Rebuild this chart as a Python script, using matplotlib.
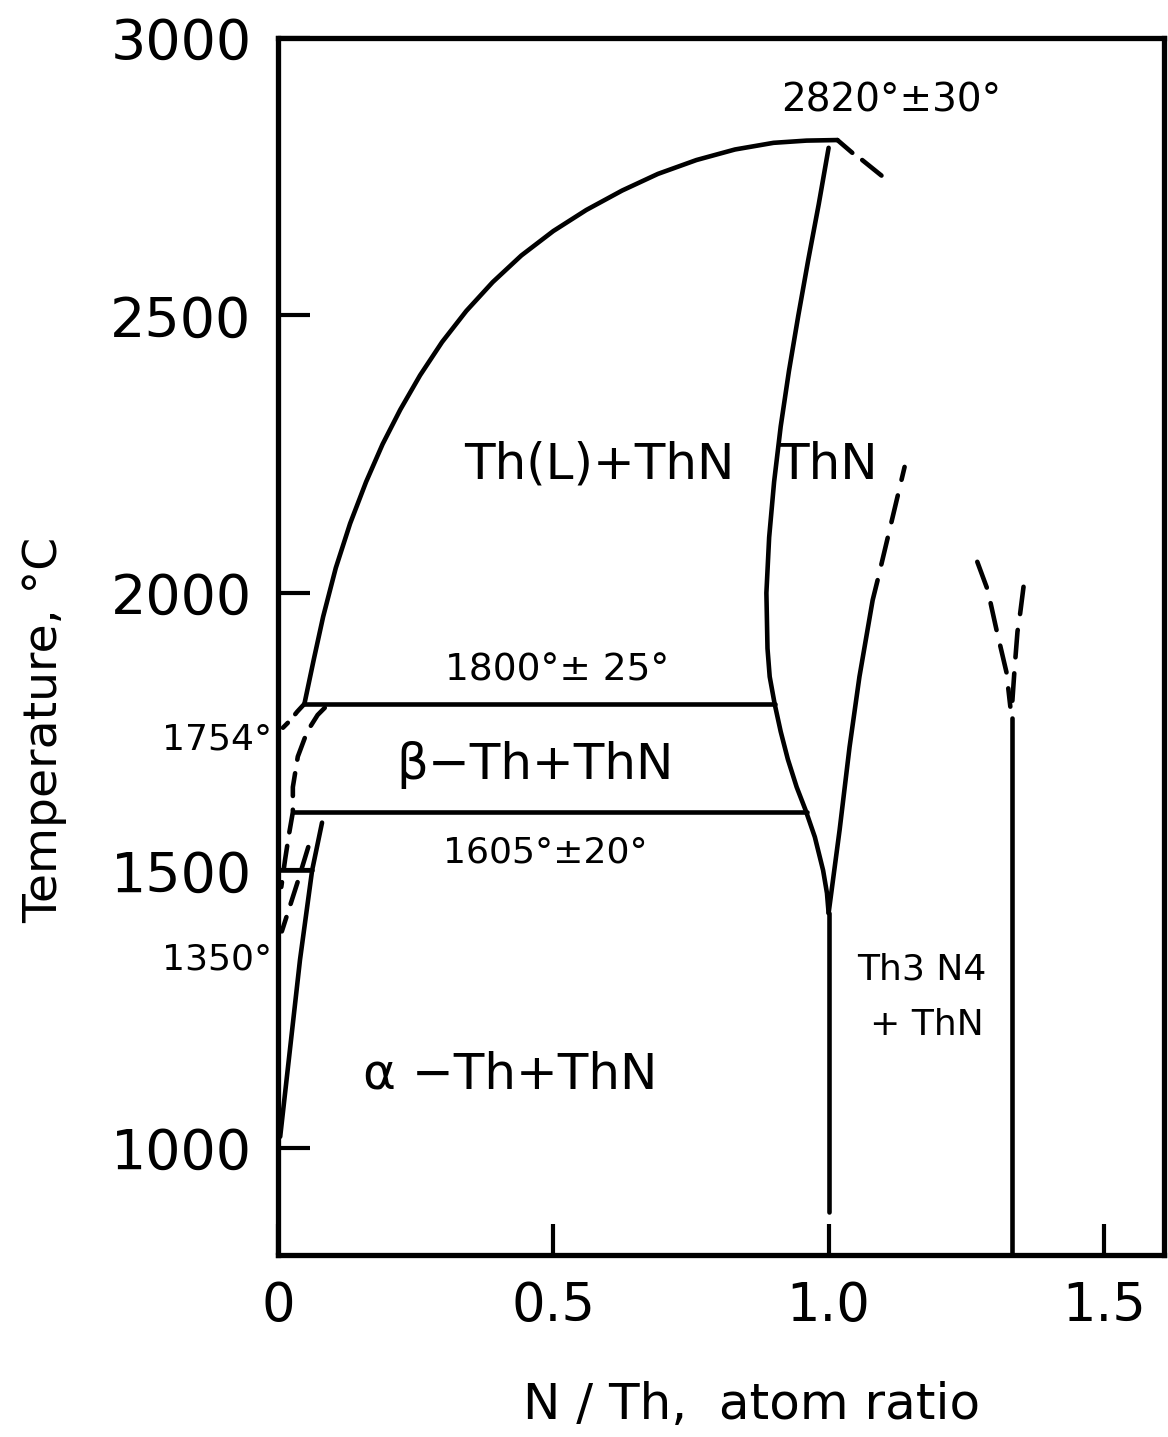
import numpy as np
import matplotlib.pyplot as plt

# axis range of the diagram
x_min, x_max = 0.0, 1.61
t_min, t_max = 807, 3000

x_ticks = [0, 0.5, 1.0, 1.5]
x_tick_labels = ['0', '0.5', '1.0', '1.5']
t_ticks = [1000, 1500, 2000, 2500, 3000]
t_tick_labels = ['1000', '1500', '2000', '2500', '3000']

# liquidus Th(L)/Th(L)+ThN
liquidus_x = [0.048, 0.065, 0.082, 0.105, 0.131, 0.160, 0.190, 0.222, 0.258, 0.298,
              0.342, 0.390, 0.442, 0.500, 0.560, 0.625, 0.690, 0.760, 0.830, 0.900,
              0.960, 1.016]
liquidus_t = [1800, 1880, 1957, 2045, 2125, 2200, 2268, 2330, 2392, 2452,
              2508, 2560, 2608, 2652, 2690, 2725, 2755, 2780, 2799, 2811,
              2815, 2816]

# beyond the congruent melting point
peak_solid_x = [1.016, 1.043]
peak_solid_t = [2816, 2793]
peak_dash_x = [1.061, 1.096]
peak_dash_t = [2780, 2752]

# ThN phase boundaries
thn_left_x = [1.000, 0.982, 0.963, 0.945, 0.928, 0.913, 0.901, 0.892, 0.887, 0.889,
              0.893, 0.902, 0.913, 0.926, 0.942, 0.958, 0.975, 0.990, 0.997, 1.000]
thn_left_t = [2802, 2700, 2600, 2500, 2400, 2300, 2200, 2100, 2000, 1900,
              1849, 1800, 1750, 1700, 1650, 1609, 1560, 1500, 1459, 1423]
thn_right_x = [1.000, 1.020, 1.038, 1.056, 1.080, 1.089]
thn_right_t = [1423, 1573, 1722, 1849, 1987, 2023]
thn_right_dash_x = [1.089, 1.138]
thn_right_dash_t = [2023, 2227]
thn_low_x = [1.0, 1.0]
thn_low_t = [1423, 885]

# Th3N4 boundary
th3n4_x = [1.333, 1.333]
th3n4_t = [1775, t_min]
v_left_x = [1.270, 1.289, 1.305, 1.323, 1.330]
v_left_t = [2056, 2005, 1933, 1857, 1795]
v_right_x = [1.354, 1.348, 1.343, 1.338, 1.333]
v_right_t = [2011, 1964, 1930, 1867, 1795]

# horizontal invariants
tie_1800_x = [0.048, 0.902]
tie_1800_t = [1800, 1800]
tie_1605_x = [0.027, 0.960]
tie_1605_t = [1605, 1605]
tie_1500_x = [0.0, 0.062]
tie_1500_t = [1500, 1500]

# Th-rich side
alpha_x = [0.080, 0.062, 0.040, 0.004]
alpha_t = [1586, 1500, 1339, 1020]
melt_x = [0.048, 0.035, 0.022, 0.009]
melt_t = [1800, 1786, 1770, 1757]
beta_x = [0.085, 0.072, 0.053, 0.036, 0.027, 0.027, 0.020, 0.013, 0.006]
beta_t = [1793, 1780, 1750, 1705, 1650, 1605, 1565, 1520, 1470]
low_x = [0.055, 0.036, 0.007]
low_t = [1542, 1480, 1390]

fig = plt.figure(figsize=(11.68, 14.37), dpi=100)
ax = fig.add_axes([0.238, 0.1267, 0.759, 0.8469])

lw = 3.3
dash = (0, (6, 3.5))
kw = dict(color='black', lw=lw, solid_capstyle='round', dash_capstyle='round',
          solid_joinstyle='round')

ax.plot(liquidus_x, liquidus_t, **kw)
ax.plot(peak_solid_x, peak_solid_t, **kw)
ax.plot(peak_dash_x, peak_dash_t, **kw)
ax.plot(thn_left_x, thn_left_t, **kw)
ax.plot(thn_right_x, thn_right_t, **kw)
ax.plot(thn_right_dash_x, thn_right_dash_t, ls=(6, (6, 3.5)), **kw)
ax.plot(thn_low_x, thn_low_t, **kw)
ax.plot(th3n4_x, th3n4_t, **kw)
ax.plot(v_left_x, v_left_t, ls=dash, **kw)
ax.plot(v_right_x, v_right_t, ls=dash, **kw)
ax.plot(tie_1800_x, tie_1800_t, **kw)
ax.plot(tie_1605_x, tie_1605_t, **kw)
ax.plot(tie_1500_x, tie_1500_t, **kw)
ax.plot(alpha_x, alpha_t, **kw)
ax.plot(melt_x, melt_t, ls=(0, (3, 2.5)), **kw)
ax.plot(beta_x, beta_t, ls=(0, (5, 3)), **kw)
ax.plot(low_x, low_t, ls=(0, (5, 3)), **kw)

ax.set_xlim(x_min, x_max)
ax.set_ylim(t_min, t_max)
ax.set_xticks(x_ticks)
ax.set_xticklabels(x_tick_labels)
ax.set_yticks(t_ticks)
ax.set_yticklabels(t_tick_labels)
ax.tick_params(axis='x', direction='in', length=22, width=3, pad=18, labelsize=38)
ax.tick_params(axis='y', direction='in', length=23, width=3, pad=19, labelsize=40)
for s in ax.spines.values():
    s.set_linewidth(3.8)

ax.text(-0.263, 0.431, 'Temperature, °C', transform=ax.transAxes, rotation=90,
        ha='center', va='center', fontsize=34)
ax.text(0.534, -0.123, 'N / Th,  atom ratio', transform=ax.transAxes,
        ha='center', va='center', fontsize=36)

ax.text(1.114, 2888, '2820°±30°', ha='center', va='center', fontsize=28)
ax.text(0.583, 2231, 'Th(L)+ThN', ha='center', va='center', fontsize=36)
ax.text(0.998, 2231, 'ThN', ha='center', va='center', fontsize=36)
ax.text(0.507, 1861, '1800°± 25°', ha='center', va='center', fontsize=27)
ax.text(0.466, 1690, 'β−Th+ThN', ha='center', va='center', fontsize=36)
ax.text(0.485, 1532, '1605°±20°', ha='center', va='center', fontsize=26)
ax.text(-0.011, 1735, '1754°', ha='right', va='center', fontsize=26)
ax.text(-0.011, 1339, '1350°', ha='right', va='center', fontsize=26)
ax.text(0.421, 1132, 'α −Th+ThN', ha='center', va='center', fontsize=36)
ax.text(1.169, 1321, 'Th3 N4', ha='center', va='center', fontsize=26)
ax.text(1.178, 1222, '+ ThN', ha='center', va='center', fontsize=26)

fig.savefig('out.png', dpi=100)
